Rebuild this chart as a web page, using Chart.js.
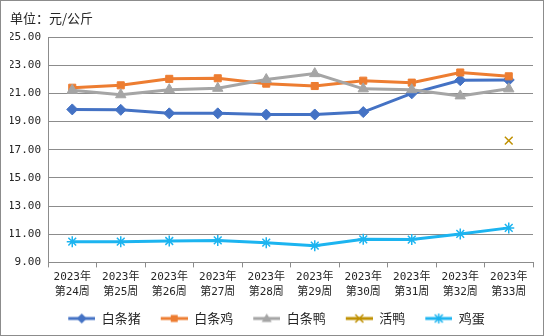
<!DOCTYPE html>
<html>
<head>
<meta charset="utf-8">
<script src="https://cdn.jsdelivr.net/npm/chart.js@4/dist/chart.umd.min.js"></script>
<style>
html,body{margin:0;padding:0;background:#fff;}
#wrap{position:relative;width:544px;height:336px;box-sizing:border-box;border:1px solid #8c8c8c;background:#fff;}
</style>
</head>
<body>
<div id="wrap"><canvas id="c"></canvas></div>
<script>
const categories = [
  ['2023年','第24周'],['2023年','第25周'],['2023年','第26周'],['2023年','第27周'],['2023年','第28周'],
  ['2023年','第29周'],['2023年','第30周'],['2023年','第31周'],['2023年','第32周'],['2023年','第33周']
];
const seriesNames = ['白条猪','白条鸡','白条鸭','活鸭','鸡蛋'];
const pork = [19.86, 19.83, 19.58, 19.58, 19.49, 19.50, 19.67, 21.00, 21.93, 21.95];
const chicken = [21.40, 21.57, 22.03, 22.07, 21.69, 21.52, 21.90, 21.76, 22.48, 22.21];
const duck = [21.22, 20.90, 21.26, 21.36, 21.98, 22.40, 21.32, 21.26, 20.82, 21.32];
const liveDuck = [null, null, null, null, null, null, null, null, null, 17.64];
const eggs = [10.47, 10.47, 10.52, 10.56, 10.40, 10.19, 10.64, 10.62, 11.02, 11.45];
const yMin = 9, yMax = 25, yStep = 2;
const unitLabel = '单位：元/公斤';

const colors = ['#4472C4','#ED7D31','#A5A5A5','#BF9000','#1CB4F0'];
const styles = ['rectRot','rect','triangle','crossRot','star'];
const radii = [5.5, 5, 6, 5.5, 5.5];
const values = [pork, chicken, duck, liveDuck, eggs];

function markerImage(i){
  const w = 37, h = 14;
  const cv = document.createElement('canvas');
  cv.width = w; cv.height = h;
  const g = cv.getContext('2d');
  const c = colors[i];
  const cx = 10 + 13.5, cy = h/2;
  g.strokeStyle = c; g.fillStyle = c; g.lineWidth = 3;
  g.beginPath(); g.moveTo(10, cy); g.lineTo(37, cy); g.stroke();
  g.lineWidth = 1.5;
  const r = 5;
  g.beginPath();
  if (styles[i] === 'rectRot') {
    g.moveTo(cx, cy - r); g.lineTo(cx + r, cy); g.lineTo(cx, cy + r); g.lineTo(cx - r, cy); g.closePath(); g.fill();
  } else if (styles[i] === 'rect') {
    g.fillRect(cx - 3.5, cy - 3.5, 7, 7);
  } else if (styles[i] === 'triangle') {
    g.moveTo(cx, cy - r); g.lineTo(cx + r, cy + 3.5); g.lineTo(cx - r, cy + 3.5); g.closePath(); g.fill();
  } else if (styles[i] === 'crossRot') {
    g.moveTo(cx - 4, cy - 4); g.lineTo(cx + 4, cy + 4); g.moveTo(cx + 4, cy - 4); g.lineTo(cx - 4, cy + 4); g.stroke();
  } else {
    g.moveTo(cx - 4, cy - 4); g.lineTo(cx + 4, cy + 4); g.moveTo(cx + 4, cy - 4); g.lineTo(cx - 4, cy + 4);
    g.moveTo(cx, cy - 5); g.lineTo(cx, cy + 5); g.stroke();
  }
  return cv;
}

const datasets = seriesNames.map((name, i) => ({
  label: name,
  data: values[i],
  borderColor: colors[i],
  backgroundColor: colors[i],
  borderWidth: 3,
  pointStyle: styles[i],
  pointRadius: radii[i],
  pointHoverRadius: radii[i],
  pointBorderWidth: (styles[i] === 'star' || styles[i] === 'crossRot') ? 1.5 : 1,
  tension: 0,
  spanGaps: false,
  order: 5 - i
}));

const textColor = '#262626';
const gridColor = '#8c8c8c';
const monoFont = '"DejaVu Sans Mono", "Noto Sans CJK SC", sans-serif';
const cjkFont = '"Noto Sans CJK SC", sans-serif';

new Chart(document.getElementById('c'), {
  type: 'line',
  data: { labels: categories, datasets },
  options: {
    responsive: true,
    maintainAspectRatio: false,
    animation: false,
    layout: { padding: { left: 9, right: 10, top: 0, bottom: 0 } },
    plugins: {
      tooltip: { enabled: false },
      title: {
        display: true,
        text: unitLabel,
        align: 'start',
        color: textColor,
        font: { family: cjkFont, size: 13, weight: 'normal', lineHeight: 1.2 },
        padding: { top: 9, bottom: 11.4 }
      },
      legend: {
        position: 'bottom',
        labels: {
          usePointStyle: true,
          pointStyleWidth: 37,
          boxHeight: 13,
          padding: 10,
          color: textColor,
          font: { family: cjkFont, size: 13 },
          generateLabels: (chart) => seriesNames.map((name, i) => ({
            text: name,
            fillStyle: colors[i],
            strokeStyle: colors[i],
            lineWidth: 0,
            pointStyle: markerImage(i),
            hidden: false,
            datasetIndex: i,
            fontColor: textColor
          }))
        }
      }
    },
    scales: {
      x: {
        offset: true,
        grid: { display: true, drawOnChartArea: false, drawTicks: true, tickLength: 5, offset: true, color: gridColor },
        border: { display: true, color: gridColor, width: 1 },
        ticks: {
          color: textColor, padding: 3, maxRotation: 0, autoSkip: false,
          font: { family: monoFont, size: 11, lineHeight: 1.3 }
        }
      },
      y: {
        min: yMin, max: yMax,
        afterFit: (s) => { s.width = 38; },
        grid: { color: gridColor, drawTicks: false, lineWidth: 1 },
        border: { display: true, color: gridColor, width: 1 },
        ticks: {
          stepSize: yStep, padding: 7, color: textColor,
          font: { family: monoFont, size: 11 },
          callback: (v) => Number(v).toFixed(2)
        }
      }
    }
  }
});
</script>
</body>
</html>
